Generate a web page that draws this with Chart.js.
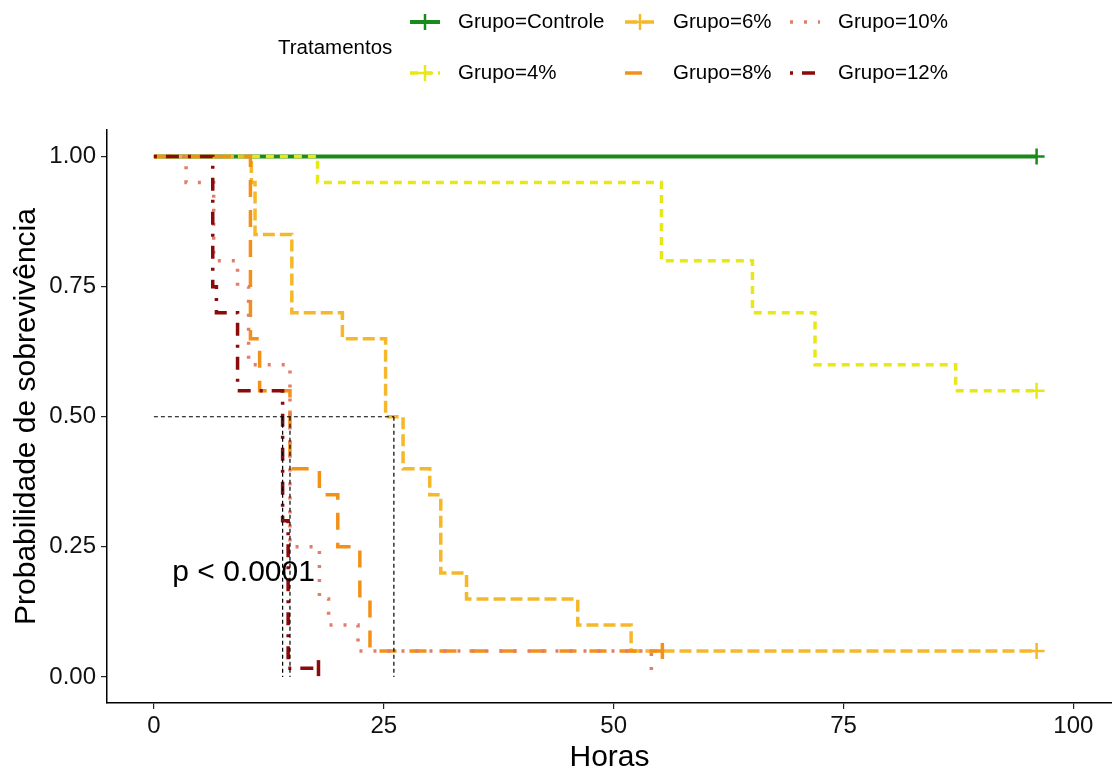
<!DOCTYPE html>
<html>
<head>
<meta charset="utf-8">
<script src="https://cdn.jsdelivr.net/npm/chart.js@4.4.1/dist/chart.umd.min.js"></script>
<style>
  html, body { margin: 0; padding: 0; background: #fff; }
  #wrap { width: 1112px; height: 773px; }
</style>
</head>
<body>
<div id="wrap"><canvas id="kmChart" width="1112" height="773"></canvas></div>
<script>
// Kaplan-Meier curves, values
const groups = ['Grupo=Controle', 'Grupo=4%', 'Grupo=6%', 'Grupo=8%', 'Grupo=10%', 'Grupo=12%'];

const timesControle = [0, 96];
const survControle  = [1, 1];
const times4  = [0, 17.8, 55.2, 65.1, 71.9, 87.2, 96];
const surv4   = [1, 0.95, 0.80, 0.70, 0.60, 0.55, 0.55];
const times6  = [0, 10.6, 11.0, 15.0, 20.5, 25.2, 27.1, 30.0, 31.2, 34.0, 46.1, 51.9, 96];
const surv6   = [1, 0.95, 0.85, 0.70, 0.65, 0.50, 0.40, 0.35, 0.20, 0.15, 0.10, 0.05, 0.05];
const times8  = [0, 10.5, 11.5, 14.8, 18.0, 20.0, 22.4, 23.5, 55.3];
const surv8   = [1, 0.65, 0.55, 0.40, 0.35, 0.25, 0.15, 0.05, 0.05];
const times10 = [0, 3.5, 6.5, 9.1, 10.3, 14.8, 18.0, 19.0, 22.2, 54.1];
const surv10  = [1, 0.95, 0.80, 0.75, 0.60, 0.25, 0.15, 0.10, 0.05, 0];
const times12 = [0, 6.4, 6.8, 9.1, 14.0, 14.6, 17.9];
const surv12  = [1, 0.75, 0.70, 0.55, 0.30, 0.017, 0.017];

// last point of a curve is a censored observation (+)
const censored = [true, true, true, true, false, true];
const medianTimes = [14.0, 14.8, 26.1];
const xTicks = [0, 25, 50, 75, 100];
const yTicks = [0, 0.25, 0.5, 0.75, 1];
const pLabel = 'p < 0.0001';

const seriesTimes = [timesControle, times4, times6, times8, times10, times12];
const seriesSurv  = [survControle, surv4, surv6, surv8, surv10, surv12];

const colors = ['#1a8a1a', '#e8e817', '#f5b82a', '#f39017', '#e27d6a', '#8b0a0a'];
const dashes = [[], [8, 6], [12, 5], [17, 13], [3, 11], [3, 9, 13, 9]];
const widths = [4, 3.5, 3.5, 3.5, 3.5, 3.5];
// dashed "+" marks only show their vertical stroke in the original
const censorStyle = ['cross', 'cross', 'cross', 'line', 'cross', 'line'];
const FONT = "'Liberation Sans', Arial, sans-serif";

const datasets = groups.map((g, i) => ({
  label: g,
  data: seriesTimes[i].map((t, j) => ({ x: t, y: seriesSurv[i][j] })),
  stepped: 'before',
  borderColor: colors[i],
  backgroundColor: colors[i],
  borderWidth: widths[i],
  borderDash: dashes[i],
  fill: false,
  order: 10 - i,
  pointStyle: censorStyle[i],
  rotation: censorStyle[i] === 'line' ? 90 : 0,
  pointRadius: ctx => (censored[i] && ctx.dataIndex === seriesTimes[i].length - 1) ? 8 : 0,
  pointHoverRadius: 0,
  pointBorderWidth: censorStyle[i] === 'line' ? 3.5 : 2.5,
  pointBorderColor: colors[i]
}));

// median reference lines
const medianStyle = {
  borderColor: '#000', borderWidth: 1.2, borderDash: [4, 3],
  pointRadius: 0, fill: false, order: 0, label: ''
};
datasets.push(Object.assign({}, medianStyle, {
  data: [{ x: 0, y: 0.5 }, { x: Math.max(...medianTimes), y: 0.5 }]
}));
medianTimes.forEach(t => {
  datasets.push(Object.assign({}, medianStyle, { data: [{ x: t, y: 0.5 }, { x: t, y: 0 }] }));
});

const legendCols = [410, 625, 790];
const legendRows = [22, 73];

const extras = {
  id: 'extras',
  afterDraw(chart) {
    const ctx = chart.ctx;
    const xs = chart.scales.x, ys = chart.scales.y;
    ctx.save();
    // p value
    ctx.fillStyle = '#000';
    ctx.font = '30px ' + FONT;
    ctx.textAlign = 'left';
    ctx.textBaseline = 'middle';
    ctx.fillText(pLabel, xs.getPixelForValue(2), ys.getPixelForValue(0.2));

    // legend
    ctx.font = '20.5px ' + FONT;
    ctx.fillText('Tratamentos', 278, 48);
    groups.forEach((g, i) => {
      const col = Math.floor(i / 2), row = i % 2;
      const x0 = legendCols[col], y0 = legendRows[row];
      ctx.strokeStyle = colors[i];
      ctx.lineWidth = widths[i];
      ctx.setLineDash(dashes[i]);
      ctx.beginPath();
      ctx.moveTo(x0, y0);
      ctx.lineTo(x0 + 30, y0);
      ctx.stroke();
      ctx.setLineDash([]);
      if (censored[i] && i < 3) {
        ctx.lineWidth = 2.5;
        ctx.beginPath();
        ctx.moveTo(x0 + 15, y0 - 8);
        ctx.lineTo(x0 + 15, y0 + 8);
        ctx.moveTo(x0 + 7, y0);
        ctx.lineTo(x0 + 23, y0);
        ctx.stroke();
      }
      ctx.fillStyle = '#000';
      ctx.fillText(g, x0 + 48, y0);
    });
    ctx.restore();
  }
};

new Chart(document.getElementById('kmChart'), {
  type: 'line',
  data: { datasets },
  plugins: [extras],
  options: {
    responsive: false,
    animation: false,
    devicePixelRatio: 1,
    layout: { autoPadding: false, padding: { top: 130, right: 0, left: 0, bottom: 0 } },
    plugins: { legend: { display: false }, tooltip: { enabled: false } },
    scales: {
      x: {
        type: 'linear',
        min: -5.1,
        max: 104.2,
        afterFit: s => { s.height = 70; s.paddingRight = 0; s.paddingLeft = 0; },
        afterBuildTicks: s => { s.ticks = xTicks.map(v => ({ value: v })); },
        ticks: { font: { family: FONT, size: 24 }, color: '#111', padding: 3 },
        grid: { display: true, drawOnChartArea: false, drawTicks: true, tickLength: 6, color: '#222', lineWidth: 1.2 },
        border: { display: true, color: '#000', width: 1.5 },
        title: { display: true, text: 'Horas', color: '#000', font: { family: FONT, size: 30, lineHeight: 1 }, padding: { top: 0, bottom: 0 } }
      },
      y: {
        type: 'linear',
        min: -0.05,
        max: 1.051,
        afterFit: s => { s.width = 107; s.paddingTop = 0; s.paddingBottom = 0; },
        afterBuildTicks: s => { s.ticks = yTicks.map(v => ({ value: v })); },
        ticks: { font: { family: FONT, size: 24 }, color: '#111', padding: 5, callback: v => Number(v).toFixed(2) },
        grid: { display: true, drawOnChartArea: false, drawTicks: true, tickLength: 6, color: '#222', lineWidth: 1.2 },
        border: { display: true, color: '#000', width: 1.5 },
        title: { display: true, text: 'Probabilidade de sobrevivência', color: '#000', font: { family: FONT, size: 30, lineHeight: 1 }, padding: { top: 12, bottom: 0 } }
      }
    }
  }
});
</script>
</body>
</html>
